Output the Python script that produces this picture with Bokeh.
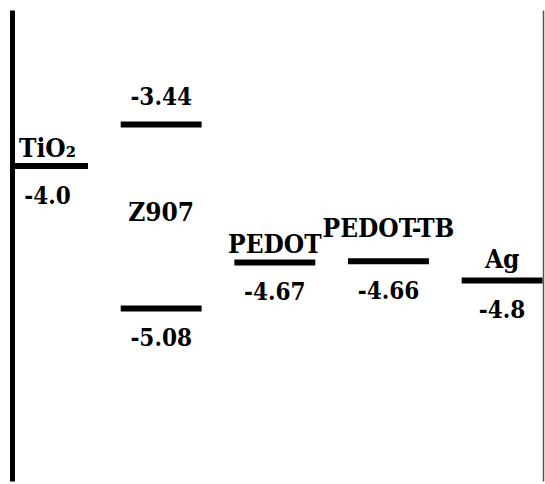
import numpy as np
from bokeh.plotting import figure
from bokeh.models import ColumnDataSource, Range1d, LinearAxis, FixedTicker
from bokeh.core.properties import value
from bokeh.embed import file_html
from bokeh.resources import INLINE

# ---- data ----
materials = ["TiO₂", "Z907", "PEDOT", "PEDOT-TB", "Ag"]
level_material = ["TiO₂", "Z907", "Z907", "PEDOT", "PEDOT-TB", "Ag"]
level_energy = [-3.81, -3.44, -5.08, -4.67, -4.66, -4.83]
level_label = ["-4.0", "-3.44", "-5.08", "-4.67", "-4.66", "-4.8"]
label_side = ["below", "above", "below", "below", "below", "below"]

# ---- layout / style ----
FONT = value("DejaVu Serif Condensed")
NAME_SIZE = "26px"
VALUE_SIZE = "24px"
HALF = 0.356
SHIFT = -9
name_gap = {"TiO₂": 9, "PEDOT": 9, "PEDOT-TB": 24, "Ag": 12}

col = {m: i for i, m in enumerate(materials)}
xc = np.array([col[m] for m in level_material], dtype=float)
ye = np.array(level_energy)

p = figure(width=545, height=484,
           x_range=Range1d(-0.308, 4.364), y_range=Range1d(-6.622, -2.424),
           output_backend="svg", toolbar_location=None,
           x_axis_type=None, y_axis_type=None,
           min_border_left=12, min_border_right=2,
           min_border_top=10, min_border_bottom=3)
p.grid.visible = False
p.outline_line_color = None
p.background_fill_color = "white"
p.border_fill_color = "white"

for side, color, width in [("left", "black", 5), ("right", "#555555", 1.5)]:
    ax = LinearAxis(ticker=FixedTicker(ticks=[]),
                    major_tick_line_color=None, minor_tick_line_color=None,
                    major_tick_in=0, major_tick_out=0,
                    minor_tick_in=0, minor_tick_out=0,
                    major_label_text_font_size="0px", major_label_standoff=0,
                    axis_line_color=color, axis_line_width=width)
    p.add_layout(ax, side)

lev = ColumnDataSource(dict(x0=xc - HALF, x1=xc + HALF, y=ye))
p.segment(x0="x0", y0="y", x1="x1", y1="y", source=lev,
          line_width=6, line_color="black", line_cap="butt")

# value labels
side = np.array(label_side)
below = side == "below"
vb = ColumnDataSource(dict(x=xc[below], y=ye[below],
                           t=[l for l, s in zip(level_label, label_side) if s == "below"]))
va = ColumnDataSource(dict(x=xc[~below], y=ye[~below],
                           t=[l for l, s in zip(level_label, label_side) if s == "above"]))
common = dict(text="t", text_font=FONT, text_font_size=VALUE_SIZE, text_font_style="bold",
              text_color="black", text_align="center", text_baseline="alphabetic")
p.text(x="x", y="y", source=vb, y_offset=38 + SHIFT, **common)
p.text(x="x", y="y", source=va, y_offset=-19 + SHIFT, **common)

# material names
nx, ny, nt, noff = [], [], [], []
for m in materials:
    es = [e for lm, e in zip(level_material, level_energy) if lm == m]
    nx.append(col[m])
    nt.append(m)
    if len(es) > 1:
        ny.append(sum(es) / len(es))
        noff.append(None)
    else:
        ny.append(es[0])
        noff.append(name_gap[m])

mid = [i for i, o in enumerate(noff) if o is None]
top = [i for i, o in enumerate(noff) if o is not None]
for i in top:
    p.text(x=[nx[i]], y=[ny[i]], text=[nt[i]], y_offset=-noff[i] + SHIFT,
           text_font=FONT, text_font_size=NAME_SIZE, text_font_style="bold",
           text_color="black", text_align="center", text_baseline="alphabetic")
for i in mid:
    p.text(x=[nx[i]], y=[ny[i]], text=[nt[i]], y_offset=-4,
           text_font=FONT, text_font_size=NAME_SIZE, text_font_style="bold",
           text_color="black", text_align="center", text_baseline="middle")

open("out.html", "w").write(file_html(p, INLINE))
